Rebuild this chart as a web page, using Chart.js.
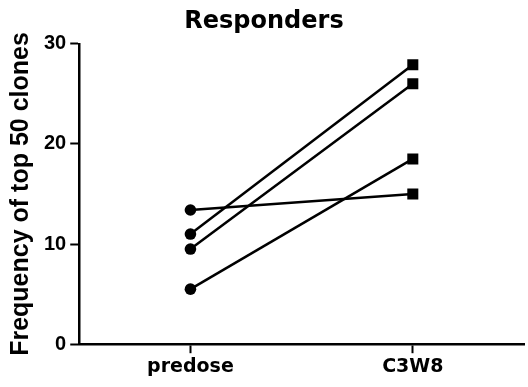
<!DOCTYPE html>
<html>
<head>
<meta charset="utf-8">
<script src="https://cdn.jsdelivr.net/npm/chart.js@4"></script>
<style>
  html, body { margin: 0; padding: 0; background: #fff; }
  #wrap { width: 528px; height: 387px; }
</style>
</head>
<body>
<div id="wrap"><canvas id="chart" width="528" height="387"></canvas></div>
<script>
// Paired samples, predose -> C3W8
const timepoints = ["predose", "C3W8"];
const predose = [13.4, 11.0, 9.5, 5.5];
const c3w8 = [15.0, 27.9, 26.0, 18.5];
const yTicks = [0, 10, 20, 30];

const arial = "'Liberation Sans', Arial, Helvetica, sans-serif";
const wide = "'DejaVu Sans', Verdana, sans-serif";

const datasets = predose.map((v, i) => ({
  label: "subject " + (i + 1),
  data: [v, c3w8[i]],
  borderColor: "#000",
  backgroundColor: "#000",
  borderWidth: 2.5,
  pointStyle: ["circle", "rect"],
  pointRadius: [5.8, 7.8],
  pointBorderWidth: 0,
  tension: 0,
}));

new Chart(document.getElementById("chart"), {
  type: "line",
  data: { labels: timepoints, datasets },
  options: {
    responsive: false,
    animation: false,
    layout: {
      autoPadding: false,
      padding: { top: 2, right: 4, left: 4, bottom: 7 },
    },
    plugins: {
      legend: { display: false },
      tooltip: { enabled: false },
      title: {
        display: true,
        text: "Responders",
        color: "#000",
        font: { family: wide, size: 24, weight: "bold" },
        padding: { top: 5, bottom: 8 },
      },
    },
    scales: {
      x: {
        type: "category",
        offset: true,
        afterFit: (axis) => {
          axis.paddingRight = 0;
        },
        grid: {
          display: true,
          drawOnChartArea: false,
          drawTicks: true,
          tickLength: 9,
          tickWidth: 2,
          tickColor: "#000",
          offset: false,
        },
        border: { display: true, color: "#000", width: 2.5 },
        ticks: {
          color: "#000",
          padding: 2,
          font: { family: wide, size: 19, weight: "bold" },
        },
      },
      y: {
        min: 0,
        max: 30,
        afterBuildTicks: (axis) => {
          axis.ticks = yTicks.map((v) => ({ value: v }));
        },
        grid: {
          display: true,
          drawOnChartArea: false,
          drawTicks: true,
          tickLength: 9,
          tickWidth: 2,
          tickColor: "#000",
        },
        border: { display: true, color: "#000", width: 2.5 },
        ticks: {
          color: "#000",
          padding: 4,
          font: { family: arial, size: 20, weight: "bold" },
        },
        title: {
          display: true,
          text: "Frequency of top 50 clones",
          color: "#000",
          font: { family: arial, size: 25, weight: "bold" },
          padding: { top: 2, bottom: 4 },
        },
      },
    },
  },
});
</script>
</body>
</html>
